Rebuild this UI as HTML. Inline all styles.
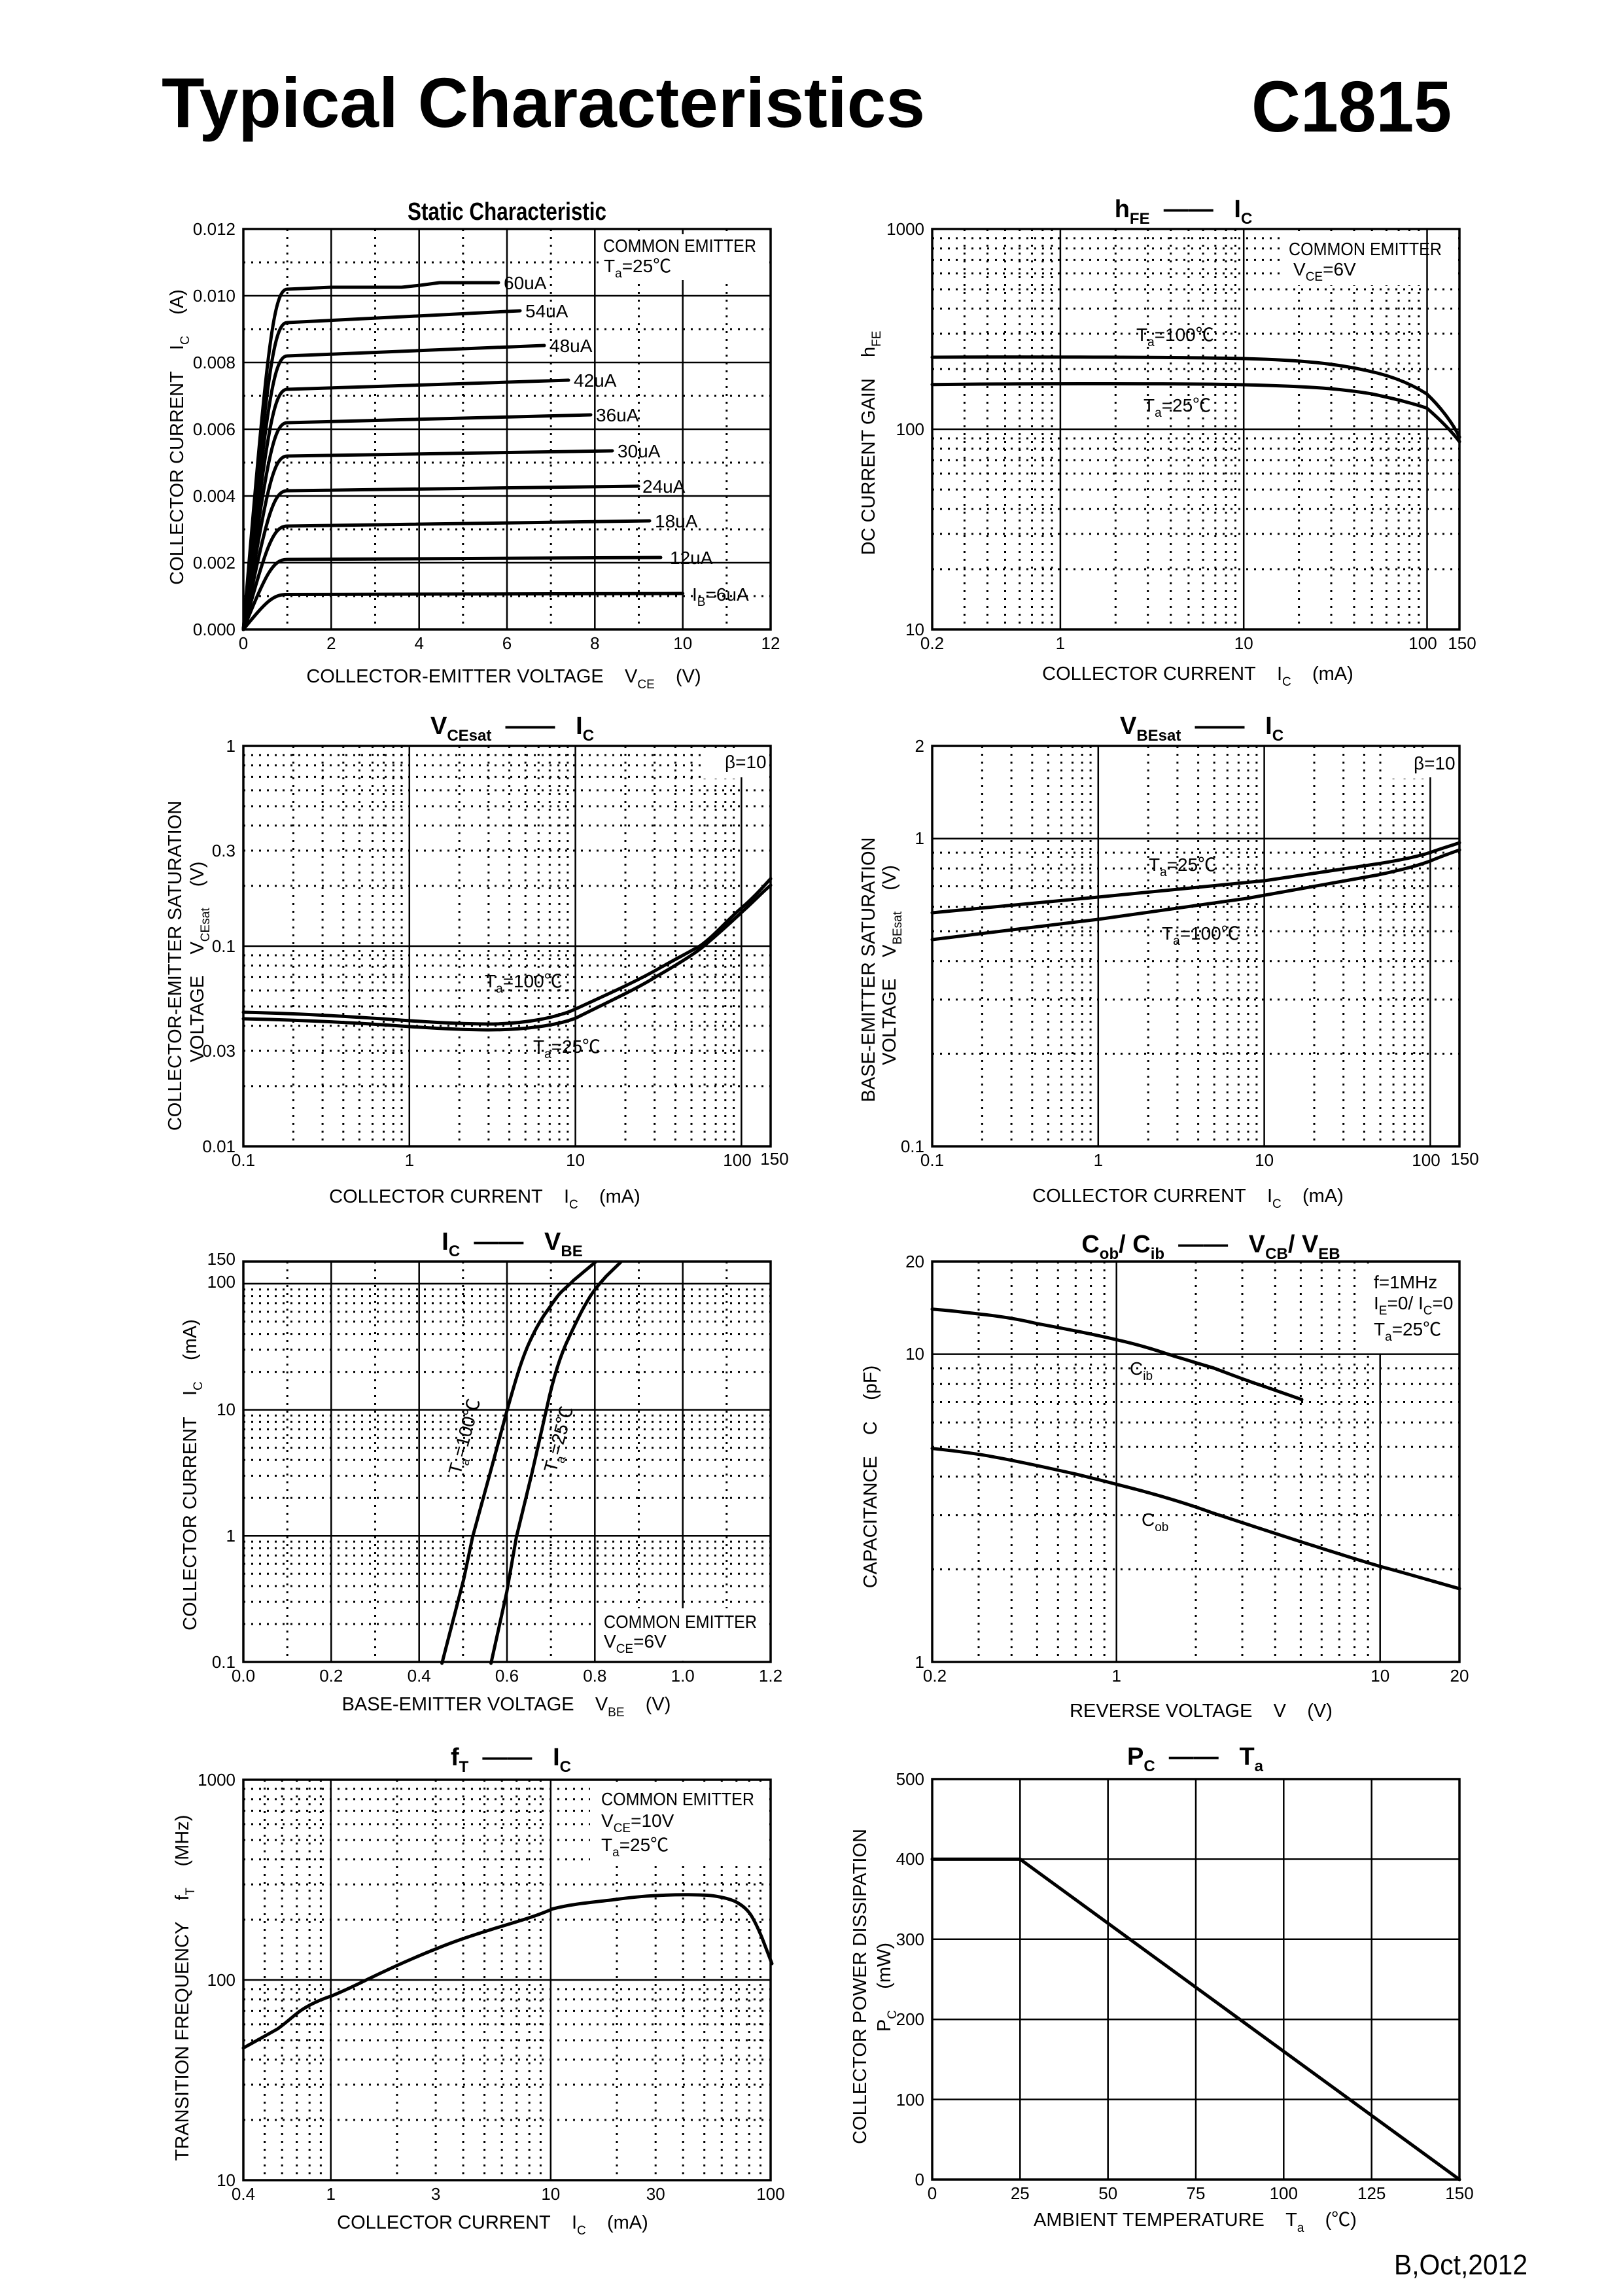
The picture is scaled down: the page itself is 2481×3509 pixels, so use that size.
<!DOCTYPE html>
<html><head><meta charset="utf-8">
<style>
html,body{margin:0;padding:0;background:#fff;}
svg{display:block;}
text{font-family:"Liberation Sans","Noto Sans CJK SC",sans-serif;fill:#000;}
.s{stroke:#000;stroke-width:2.5;fill:none;}
.d{stroke:#000;stroke-width:3;stroke-dasharray:3 9;fill:none;}
.f{stroke:#000;stroke-width:3.5;fill:none;}
.c{stroke:#000;stroke-width:5;fill:none;stroke-linejoin:round;stroke-linecap:round;}
.t{font-size:26px;}
.a{font-size:29px;}
.h{font-size:38px;font-weight:bold;}
.n{font-size:28px;}
.sb{font-size:19px;}
.hs{font-size:24px;}
</style></head>
<body>
<svg width="2481" height="3509" viewBox="0 0 2481 3509" xmlns="http://www.w3.org/2000/svg">
<rect width="2481" height="3509" fill="#fff"/>
<text x="247" y="194" font-size="108" font-weight="bold" textLength="1167" lengthAdjust="spacingAndGlyphs">Typical Characteristics</text>
<text x="1913" y="201" font-size="110" font-weight="bold" textLength="306" lengthAdjust="spacingAndGlyphs">C1815</text>
<text x="2131" y="3476" font-size="44" textLength="204" lengthAdjust="spacingAndGlyphs">B,Oct,2012</text>

<!-- Chart 1 -->
<g transform="translate(372,350)">
<path class="d" d="M67.2 0V612M201.5 0V612M335.8 0V612M470.2 0V612M604.5 0V612M738.8 0V612M0 51H806M0 153H806M0 255H806M0 357H806M0 459H806M0 561H806"/>
<path class="s" d="M134.3 0V612M268.7 0V612M403 0V612M537.3 0V612M671.7 0V612M0 102H806M0 204H806M0 306H806M0 408H806M0 510H806"/>
<rect x="545" y="8" width="250" height="70" fill="#fff"/>
<rect class="f" x="0" y="0" width="806" height="612"/>
<path class="c" d="M0 612C35 569.2 45 558.5 67 558.5L671.7 557"/>
<path class="c" d="M0 612C35 526.4 45 505 67 505L638 502"/>
<path class="c" d="M0 612C35 485.6 45 454 67 454L621 446"/>
<path class="c" d="M0 612C35 442.4 45 400 67 400L604 393"/>
<path class="c" d="M0 612C35 400 45 347 67 347L564 339"/>
<path class="c" d="M0 612C35 359.2 45 296 67 296L531 284"/>
<path class="c" d="M0 612C35 318.4 45 245 67 245L497 231"/>
<path class="c" d="M0 612C35 277.6 45 194 67 194L460 178"/>
<path class="c" d="M0 612C35 236.8 45 143 67 143L423 125"/>
<path class="c" d="M0 612C35 196 45 92 67 92L134 89L242 89L270 86L300 82L390 82"/>
<g class="n">
<text x="398" y="92">60uA</text><text x="431" y="135">54uA</text><text x="468" y="188">48uA</text>
<text x="505" y="241">42uA</text><text x="539" y="294">36uA</text><text x="572" y="349">30uA</text>
<text x="610" y="403">24uA</text><text x="629" y="456">18uA</text><text x="652" y="512">12uA</text>
<text x="686" y="568">I<tspan class="sb" dy="8">B</tspan><tspan dy="-8">=6uA</tspan></text>
<text x="550" y="35" textLength="234" lengthAdjust="spacingAndGlyphs">COMMON EMITTER</text>
<text x="551" y="66">T<tspan class="sb" dy="8">a</tspan><tspan dy="-8">=25℃</tspan></text>
</g>
<g class="t" text-anchor="end">
<text x="-12" y="621">0.000</text><text x="-12" y="519">0.002</text><text x="-12" y="417">0.004</text><text x="-12" y="315">0.006</text><text x="-12" y="213">0.008</text><text x="-12" y="111">0.010</text><text x="-12" y="9">0.012</text>
</g>
<g class="t" text-anchor="middle">
<text x="0" y="642">0</text><text x="134.3" y="642">2</text><text x="268.7" y="642">4</text><text x="403" y="642">6</text><text x="537.3" y="642">8</text><text x="671.7" y="642">10</text><text x="806" y="642">12</text>
</g>
<text class="h" x="251" y="-14" font-size="34" textLength="304" lengthAdjust="spacingAndGlyphs">Static Characteristic</text>
<text class="a" x="398" y="693" text-anchor="middle">COLLECTOR-EMITTER VOLTAGE&#160;&#160;&#160;&#160;V<tspan class="sb" dy="9">CE</tspan><tspan dy="-9">&#160;&#160;&#160;&#160;(V)</tspan></text>
<text class="a" transform="translate(-92,318) rotate(-90)" text-anchor="middle">COLLECTOR CURRENT&#160;&#160;&#160;&#160;I<tspan class="sb" dy="9">C</tspan><tspan dy="-9">&#160;&#160;&#160;&#160;(A)</tspan></text>
</g>

<!-- Chart 2 -->
<g transform="translate(1425,350)">
<path class="d" d="M49.4 0V612M84.4 0V612M111.5 0V612M133.7 0V612M152.5 0V612M168.8 0V612M183.1 0V612M280.3 0V612M329.7 0V612M364.7 0V612M391.9 0V612M414.1 0V612M432.8 0V612M449.1 0V612M463.5 0V612M560.6 0V612M610 0V612M645 0V612M672.2 0V612M694.4 0V612M713.1 0V612M729.4 0V612M743.8 0V612
M0 519.9H806M0 466H806M0 427.8H806M0 398.1H806M0 373.9H806M0 353.4H806M0 335.7H806M0 320H806M0 213.9H806M0 160H806M0 121.8H806M0 92.1H806M0 67.9H806M0 47.4H806M0 29.7H806M0 14H806"/>
<rect x="535" y="8" width="262" height="78" fill="#fff"/>
<path class="s" d="M195.9 0V612M476.2 0V612M756.5 0V612M0 306H806"/>
<rect class="f" x="0" y="0" width="806" height="612"/>
<path class="c" d="M0 196C150 195 400 196 476 198C560 200 620 205 680 220C720 230 745 245 756 252C775 270 795 295 806 318"/>
<path class="c" d="M0 237.7C150 236 400 236 476 238C560 240 620 243 672 252C720 262 745 270 756 273.6C775 290 795 310 806 325"/>
<g class="n">
<text x="312" y="171">T<tspan class="sb" dy="8">a</tspan><tspan dy="-8">=100℃</tspan></text>
<text x="323" y="279">T<tspan class="sb" dy="8">a</tspan><tspan dy="-8">=25℃</tspan></text>
<text x="545" y="40" textLength="234" lengthAdjust="spacingAndGlyphs">COMMON EMITTER</text>
<text x="552" y="71">V<tspan class="sb" dy="8">CE</tspan><tspan dy="-8">=6V</tspan></text>
</g>
<g class="t" text-anchor="end"><text x="-12" y="9">1000</text><text x="-12" y="315">100</text><text x="-12" y="621">10</text></g>
<g class="t" text-anchor="middle"><text x="0" y="642">0.2</text><text x="195.9" y="642">1</text><text x="476.2" y="642">10</text><text x="750" y="642">100</text><text x="810" y="642">150</text></g>
<text class="h" x="384" y="-18" text-anchor="middle">h<tspan class="hs" dy="10">FE</tspan><tspan dy="-10">&#160;&#160;——&#160;&#160;&#160;</tspan>I<tspan class="hs" dy="10">C</tspan></text>
<text class="a" x="406" y="689" text-anchor="middle">COLLECTOR CURRENT&#160;&#160;&#160;&#160;I<tspan class="sb" dy="9">C</tspan><tspan dy="-9">&#160;&#160;&#160;&#160;(mA)</tspan></text>
<text class="a" transform="translate(-88,327) rotate(-90)" text-anchor="middle">DC CURRENT GAIN&#160;&#160;&#160;&#160;h<tspan class="sb" dy="9">FE</tspan></text>
</g>

<!-- Chart 3 -->
<g transform="translate(372,1140)">
<path class="d" d="M76.4 0V612M121.1 0V612M152.8 0V612M177.4 0V612M197.5 0V612M214.5 0V612M229.2 0V612M242.1 0V612M330.2 0V612M374.9 0V612M406.6 0V612M431.2 0V612M451.3 0V612M468.3 0V612M483 0V612M495.9 0V612M584 0V612M628.7 0V612M660.4 0V612M685 0V612M705.1 0V612M722.1 0V612M736.8 0V612M749.7 0V612
M0 519.9H806M0 466H806M0 427.8H806M0 398.1H806M0 373.9H806M0 353.4H806M0 335.7H806M0 320H806M0 213.9H806M0 160H806M0 121.8H806M0 92.1H806M0 67.9H806M0 47.4H806M0 29.7H806M0 14H806"/>
<rect x="700" y="5" width="100" height="45" fill="#fff"/>
<path class="s" d="M253.8 0V612M507.6 0V612M761.4 48V612M0 306H806"/>
<rect class="f" x="0" y="0" width="806" height="612"/>
<path class="c" d="M0 407C100 409 200 416 254.7 420C300 423 340 425 374 425C430 425 480 415 508 402C560 378 600 360 632 342C660 326 680 316 699 305C720 290 740 266 761 248C780 232 795 215 806 203"/>
<path class="c" d="M0 417C100 419 200 425 254.7 429C300 432 340 434 374 434C430 434 480 427 508 416C560 390 600 372 632 352C660 336 690 318 705 305C725 288 745 270 761 255C780 238 795 222 806 213"/>
<g class="n">
<text x="369" y="369">T<tspan class="sb" dy="8">a</tspan><tspan dy="-8">=100℃</tspan></text>
<text x="443" y="469">T<tspan class="sb" dy="8">a</tspan><tspan dy="-8">=25℃</tspan></text>
<text x="736" y="34">β=10</text>
</g>
<g class="t" text-anchor="end"><text x="-12" y="9">1</text><text x="-12" y="169">0.3</text><text x="-12" y="315">0.1</text><text x="-12" y="475">0.03</text><text x="-12" y="621">0.01</text></g>
<g class="t" text-anchor="middle"><text x="0" y="642">0.1</text><text x="253.8" y="642">1</text><text x="507.6" y="642">10</text><text x="755" y="642">100</text><text x="812" y="640">150</text></g>
<text class="h" x="411" y="-18" text-anchor="middle">V<tspan class="hs" dy="10">CEsat</tspan><tspan dy="-10">&#160;&#160;——&#160;&#160;&#160;</tspan>I<tspan class="hs" dy="10">C</tspan></text>
<text class="a" x="369" y="698" text-anchor="middle">COLLECTOR CURRENT&#160;&#160;&#160;&#160;I<tspan class="sb" dy="9">C</tspan><tspan dy="-9">&#160;&#160;&#160;&#160;(mA)</tspan></text>
<text class="a" transform="translate(-95,336) rotate(-90)" text-anchor="middle">COLLECTOR-EMITTER SATURATION</text>
<text class="a" transform="translate(-61,330) rotate(-90)" text-anchor="middle">VOLTAGE&#160;&#160;&#160;&#160;V<tspan class="sb" dy="9">CEsat</tspan><tspan dy="-9">&#160;&#160;&#160;&#160;(V)</tspan></text>
</g>

<!-- Chart 4 -->
<g transform="translate(1425,1140)">
<path class="d" d="M76.4 0V612M121.1 0V612M152.8 0V612M177.4 0V612M197.5 0V612M214.5 0V612M229.2 0V612M242.1 0V612M330.2 0V612M374.9 0V612M406.6 0V612M431.2 0V612M451.3 0V612M468.3 0V612M483 0V612M495.9 0V612M584 0V612M628.7 0V612M660.4 0V612M685 0V612M705.1 0V612M722.1 0V612M736.8 0V612M749.7 0V612
M0 470.4H806M0 387.6H806M0 328.8H806M0 283.2H806M0 246H806M0 214.5H806M0 187.2H806M0 163.1H806"/>
<rect x="700" y="5" width="100" height="45" fill="#fff"/>
<path class="s" d="M253.8 0V612M507.6 0V612M761.4 48V612M0 141.6H806"/>
<rect class="f" x="0" y="0" width="806" height="612"/>
<path class="c" d="M0 255L253.7 231L508 206L682 180C720 174 745 168 761 163C780 156 795 152 806 148"/>
<path class="c" d="M0 296L253.7 265L481 233L682 197C720 189 745 182 761 176C780 168 795 163 806 159"/>
<g class="n">
<text x="331" y="191">T<tspan class="sb" dy="8">a</tspan><tspan dy="-8">=25℃</tspan></text>
<text x="351" y="296">T<tspan class="sb" dy="8">a</tspan><tspan dy="-8">=100℃</tspan></text>
<text x="736" y="36">β=10</text>
</g>
<g class="t" text-anchor="end"><text x="-12" y="9">2</text><text x="-12" y="150">1</text><text x="-12" y="621">0.1</text></g>
<g class="t" text-anchor="middle"><text x="0" y="642">0.1</text><text x="253.8" y="642">1</text><text x="507.6" y="642">10</text><text x="755" y="642">100</text><text x="814" y="640">150</text></g>
<text class="h" x="412" y="-18" text-anchor="middle">V<tspan class="hs" dy="10">BEsat</tspan><tspan dy="-10">&#160;&#160;——&#160;&#160;&#160;</tspan>I<tspan class="hs" dy="10">C</tspan></text>
<text class="a" x="391" y="697" text-anchor="middle">COLLECTOR CURRENT&#160;&#160;&#160;&#160;I<tspan class="sb" dy="9">C</tspan><tspan dy="-9">&#160;&#160;&#160;&#160;(mA)</tspan></text>
<text class="a" transform="translate(-88,342) rotate(-90)" text-anchor="middle">BASE-EMITTER SATURATION</text>
<text class="a" transform="translate(-56,335) rotate(-90)" text-anchor="middle">VOLTAGE&#160;&#160;&#160;&#160;V<tspan class="sb" dy="9">BEsat</tspan><tspan dy="-9">&#160;&#160;&#160;&#160;(V)</tspan></text>
</g>

<!-- Chart 5 -->
<g transform="translate(372,1928)">
<path class="d" d="M67.2 0V612M201.5 0V612M335.8 0V612M470.2 0V612M604.5 0V612M738.8 0V612
M0 554H806M0 520.1H806M0 496H806M0 477.3H806M0 462.1H806M0 449.2H806M0 438H806M0 428.1H806M0 361.3H806M0 327.4H806M0 303.3H806M0 284.6H806M0 269.4H806M0 256.5H806M0 245.3H806M0 235.4H806M0 168.6H806M0 134.7H806M0 110.6H806M0 91.9H806M0 76.7H806M0 63.8H806M0 52.6H806M0 42.7H806"/>
<path class="s" d="M134.3 0V612M268.7 0V612M403 0V612M537.3 0V612M671.7 0V612M0 419.3H806M0 226.6H806M0 33.9H806"/>
<rect x="539" y="530" width="265" height="80" fill="#fff"/>
<rect class="f" x="0" y="0" width="806" height="612"/>
<path class="c" d="M303.6 614L337 485L350.4 421L377 324L402.7 229C415 185 425 150 437.5 123C448 100 456 87 464 76C474 62 480 52 488 44.6C496 37 500 34 504.5 29L538 1"/>
<path class="c" d="M378.6 614L402.7 505L417.4 421L441 324L464 223C475 172 486 140 497.8 116C508 94 516 77 524.6 62.7C530 53 535 46 539 41C545 33 550 28 554.7 22.5L576.8 1"/>
<text class="n" transform="translate(347,270) rotate(-75)" text-anchor="middle">T<tspan class="sb" dy="8">a</tspan><tspan dy="-8">=100℃</tspan></text>
<text class="n" transform="translate(491,274) rotate(-75)" text-anchor="middle">T<tspan class="sb" dy="8">a</tspan><tspan dy="-8">=25℃</tspan></text>
<g class="n">
<text x="551" y="560" textLength="234" lengthAdjust="spacingAndGlyphs">COMMON EMITTER</text>
<text x="551" y="590">V<tspan class="sb" dy="8">CE</tspan><tspan dy="-8">=6V</tspan></text>
</g>
<g class="t" text-anchor="end"><text x="-12" y="5">150</text><text x="-12" y="40">100</text><text x="-12" y="235">10</text><text x="-12" y="428">1</text><text x="-12" y="621">0.1</text></g>
<g class="t" text-anchor="middle"><text x="0" y="642">0.0</text><text x="134.3" y="642">0.2</text><text x="268.7" y="642">0.4</text><text x="403" y="642">0.6</text><text x="537.3" y="642">0.8</text><text x="671.7" y="642">1.0</text><text x="806" y="642">1.2</text></g>
<text class="h" x="411" y="-18" text-anchor="middle">I<tspan class="hs" dy="10">C</tspan><tspan dy="-10">&#160;&#160;——&#160;&#160;&#160;</tspan>V<tspan class="hs" dy="10">BE</tspan></text>
<text class="a" x="402" y="686" text-anchor="middle">BASE-EMITTER VOLTAGE&#160;&#160;&#160;&#160;V<tspan class="sb" dy="9">BE</tspan><tspan dy="-9">&#160;&#160;&#160;&#160;(V)</tspan></text>
<text class="a" transform="translate(-72,326) rotate(-90)" text-anchor="middle">COLLECTOR CURRENT&#160;&#160;&#160;&#160;I<tspan class="sb" dy="9">C</tspan><tspan dy="-9">&#160;&#160;&#160;&#160;(mA)</tspan></text>
</g>

<!-- Chart 6 -->
<g transform="translate(1425,1928)">
<path class="d" d="M71 0V612M121.3 0V612M160.4 0V612M192.3 0V612M219.3 0V612M242.6 0V612M263.2 0V612M403 0V612M474 0V612M524.3 0V612M563.4 0V612M595.3 0V612M622.3 0V612M645.6 0V612M666.2 0V612
M0 470.4H806M0 387.6H806M0 328.8H806M0 283.2H806M0 246H806M0 214.5H806M0 187.2H806M0 163.1H806"/>
<rect x="660" y="3" width="143" height="136" fill="#fff"/>
<path class="s" d="M281.7 0V612M684.7 141.6V612M0 141.6H806"/>
<rect class="f" x="0" y="0" width="806" height="612"/>
<path class="c" d="M0 72.7C40 76 70 80 93 82.7C120 86 140 90 160 94.8C210 104 250 112 282 119.6C320 128 350 138 371 145C395 152 410 157 428 162C450 170 470 178 495 186.6C520 195 545 204 565 211"/>
<path class="c" d="M0 285.7C40 290 70 294 93 298.4C140 307 180 316 220 325C245 331 265 336 282 340.6C340 355 390 370 428 384C470 398 520 414 562 427.7C610 443 650 456 685 466C730 478 770 490 806 500"/>
<g class="n">
<text x="302" y="173">C<tspan class="sb" dy="8">ib</tspan></text>
<text x="320" y="404">C<tspan class="sb" dy="8">ob</tspan></text>
<text x="675" y="41">f=1MHz</text>
<text x="675" y="73">I<tspan class="sb" dy="8">E</tspan><tspan dy="-8">=0/ I</tspan><tspan class="sb" dy="8">C</tspan><tspan dy="-8">=0</tspan></text>
<text x="675" y="113">T<tspan class="sb" dy="8">a</tspan><tspan dy="-8">=25℃</tspan></text>
</g>
<g class="t" text-anchor="end"><text x="-12" y="9">20</text><text x="-12" y="150">10</text><text x="-12" y="621">1</text></g>
<g class="t" text-anchor="middle"><text x="4" y="642">0.2</text><text x="281.7" y="642">1</text><text x="684.7" y="642">10</text><text x="806" y="642">20</text></g>
<text class="h" x="426" y="-14" text-anchor="middle">C<tspan class="hs" dy="10">ob</tspan><tspan dy="-10">/ C</tspan><tspan class="hs" dy="10">ib</tspan><tspan dy="-10">&#160;&#160;——&#160;&#160;&#160;V</tspan><tspan class="hs" dy="10">CB</tspan><tspan dy="-10">/ V</tspan><tspan class="hs" dy="10">EB</tspan></text>
<text class="a" x="411" y="696" text-anchor="middle">REVERSE VOLTAGE&#160;&#160;&#160;&#160;V&#160;&#160;&#160;&#160;(V)</text>
<text class="a" transform="translate(-85,329) rotate(-90)" text-anchor="middle">CAPACITANCE&#160;&#160;&#160;&#160;C&#160;&#160;&#160;&#160;(pF)</text>
</g>

<!-- Chart 7 -->
<g transform="translate(372,2720)">
<path class="d" d="M32.6 0V612M59.2 0V612M81.7 0V612M101.2 0V612M118.4 0V612M234.9 0V612M294.1 0V612M336.1 0V612M368.6 0V612M395.2 0V612M417.7 0V612M437.2 0V612M454.4 0V612M571 0V612M630.2 0V612M672.2 0V612M704.7 0V612M731.3 0V612M753.8 0V612M773.3 0V612M790.5 0V612
M0 519.9H806M0 466H806M0 427.8H806M0 398.1H806M0 373.9H806M0 353.4H806M0 335.7H806M0 320H806M0 213.9H806M0 160H806M0 121.8H806M0 92.1H806M0 67.9H806M0 47.4H806M0 29.7H806M0 14H806"/>
<rect x="530" y="5" width="272" height="122" fill="#fff"/>
<path class="s" d="M133.7 0V612M469.8 0V612M0 306H806"/>
<rect class="f" x="0" y="0" width="806" height="612"/>
<path class="c" d="M0 410L52 381C65 372 75 362 86 354C100 344 118 336 136 330C155 322 172 314 190 305C225 288 260 272 297 257.5C325 246 350 238 377 229.5C410 219 445 210 472 197.6C500 190 535 187 565 183.5C590 180 610 178 632 177C650 176 665 175.7 675 175.7C695 176 710 176 722 178C735 180 745 183 752 186C763 192 770 198 776 207C783 218 788 230 792.5 240.7C798 255 803 268 808 281"/>
<g class="n">
<text x="547" y="39" textLength="234" lengthAdjust="spacingAndGlyphs">COMMON EMITTER</text>
<text x="547" y="72">V<tspan class="sb" dy="8">CE</tspan><tspan dy="-8">=10V</tspan></text>
<text x="547" y="109">T<tspan class="sb" dy="8">a</tspan><tspan dy="-8">=25℃</tspan></text>
</g>
<g class="t" text-anchor="end"><text x="-12" y="9">1000</text><text x="-12" y="315">100</text><text x="-12" y="621">10</text></g>
<g class="t" text-anchor="middle"><text x="0" y="642">0.4</text><text x="133.7" y="642">1</text><text x="294.1" y="642">3</text><text x="469.8" y="642">10</text><text x="630.2" y="642">30</text><text x="806" y="642">100</text></g>
<text class="h" x="409" y="-22" text-anchor="middle">f<tspan class="hs" dy="10">T</tspan><tspan dy="-10">&#160;&#160;——&#160;&#160;&#160;</tspan>I<tspan class="hs" dy="10">C</tspan></text>
<text class="a" x="381" y="686" text-anchor="middle">COLLECTOR CURRENT&#160;&#160;&#160;&#160;I<tspan class="sb" dy="9">C</tspan><tspan dy="-9">&#160;&#160;&#160;&#160;(mA)</tspan></text>
<text class="a" transform="translate(-84,318) rotate(-90)" text-anchor="middle">TRANSITION FREQUENCY&#160;&#160;&#160;&#160;f<tspan class="sb" dy="9">T</tspan><tspan dy="-9">&#160;&#160;&#160;&#160;(MHz)</tspan></text>
</g>

<!-- Chart 8 -->
<g transform="translate(1425,2719)">
<path class="s" d="M134.3 0V612M268.7 0V612M403 0V612M537.3 0V612M671.7 0V612M0 122.4H806M0 244.8H806M0 367.2H806M0 489.6H806"/>
<rect class="f" x="0" y="0" width="806" height="612"/>
<path class="c" d="M0 122.4L134.3 122.4L806 612"/>
<g class="t" text-anchor="end"><text x="-12" y="9">500</text><text x="-12" y="131">400</text><text x="-12" y="254">300</text><text x="-12" y="376">200</text><text x="-12" y="499">100</text><text x="-12" y="621">0</text></g>
<g class="t" text-anchor="middle"><text x="0" y="642">0</text><text x="134.3" y="642">25</text><text x="268.7" y="642">50</text><text x="403" y="642">75</text><text x="537.3" y="642">100</text><text x="671.7" y="642">125</text><text x="806" y="642">150</text></g>
<text class="h" x="402" y="-22" text-anchor="middle">P<tspan class="hs" dy="10">C</tspan><tspan dy="-10">&#160;&#160;——&#160;&#160;&#160;</tspan>T<tspan class="hs" dy="10">a</tspan></text>
<text class="a" x="402" y="683" text-anchor="middle">AMBIENT TEMPERATURE&#160;&#160;&#160;&#160;T<tspan class="sb" dy="9">a</tspan><tspan dy="-9">&#160;&#160;&#160;&#160;(℃)</tspan></text>
<text class="a" transform="translate(-101,317) rotate(-90)" text-anchor="middle">COLLECTOR POWER DISSIPATION</text>
<text class="a" transform="translate(-64,318) rotate(-90)" text-anchor="middle">P<tspan class="sb" dy="9">C</tspan><tspan dy="-9">&#160;&#160;&#160;&#160;(mW)</tspan></text>
</g>
</svg>
</body></html>
